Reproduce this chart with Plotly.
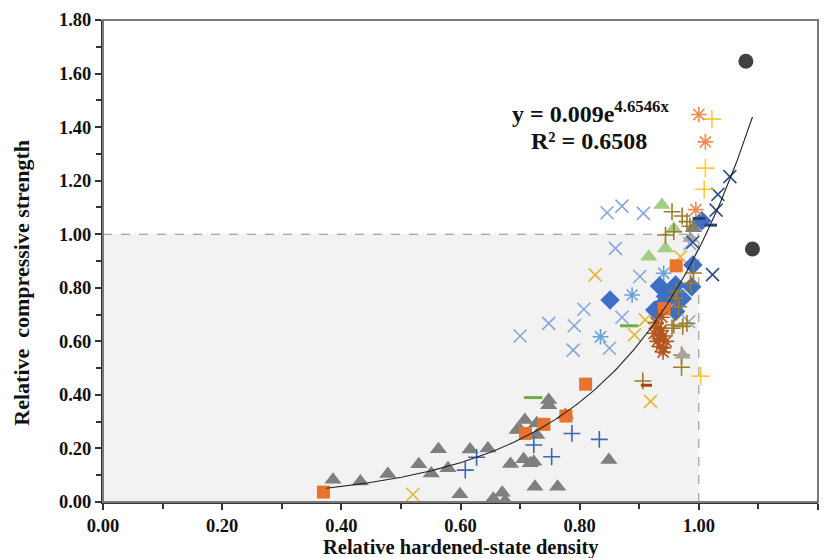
import numpy as np
import plotly.graph_objects as go

# ---------------- data ----------------
gray_tri_x = [0.386, 0.432, 0.478, 0.530, 0.551, 0.563, 0.579, 0.616, 0.646, 0.599, 0.655, 0.670, 0.675,
              0.684, 0.700, 0.708, 0.706, 0.717, 0.723, 0.728, 0.728, 0.695, 0.748, 0.748, 0.763, 0.725,
              0.776, 0.849, 0.991]
gray_tri_y = [0.083, 0.077, 0.105, 0.141, 0.106, 0.197, 0.126, 0.196, 0.200, 0.029, 0.012, 0.035, 0.004,
              0.142, 0.270, 0.306, 0.160, 0.145, 0.150, 0.294, 0.250, 0.269, 0.381, 0.361, 0.057, 0.057,
              0.325, 0.157, 1.022]

lgray_tri_x = [0.973, 0.986]
lgray_tri_y = [0.549, 0.985]

green_tri_x = [0.938, 0.944, 0.916, 0.958]
green_tri_y = [1.109, 0.947, 0.916, 1.020]

orange_sq_x = [0.370, 0.709, 0.740, 0.777, 0.810, 0.942, 0.962]
orange_sq_y = [0.037, 0.256, 0.290, 0.321, 0.440, 0.722, 0.882]

blue_dia_x = [0.851, 0.990, 0.988, 0.934, 0.926, 0.961, 0.966, 0.944, 0.961, 0.952, 0.972, 0.940, 1.005]
blue_dia_y = [0.754, 0.885, 0.804, 0.807, 0.717, 0.711, 0.754, 0.767, 0.810, 0.780, 0.760, 0.740, 1.050]

lblue_x_x = [0.700, 0.748, 0.791, 0.807, 0.789, 0.850, 0.860, 0.846, 0.871, 0.907, 0.901, 0.871, 0.983, 0.985]
lblue_x_y = [0.620, 0.667, 0.658, 0.720, 0.567, 0.574, 0.947, 1.080, 1.105, 1.078, 0.842, 0.690, 0.673, 0.965]

lblue_ast_x = [0.888, 0.835, 0.941]
lblue_ast_y = [0.773, 0.617, 0.854]

gold_x_x = [0.520, 0.826, 0.892, 0.910, 0.969, 0.919]
gold_x_y = [0.028, 0.848, 0.624, 0.680, 0.916, 0.376]

navy_x_x = [1.052, 1.032, 1.029, 1.023, 0.990]
navy_x_y = [1.215, 1.149, 1.090, 0.849, 0.970]

dblue_plus_x = [0.608, 0.627, 0.723, 0.753, 0.787, 0.833]
dblue_plus_y = [0.119, 0.167, 0.213, 0.169, 0.256, 0.234]

yellow_plus_x = [1.022, 1.011, 1.009, 1.003]
yellow_plus_y = [1.430, 1.247, 1.168, 0.470]

orange_ast_x = [1.000, 1.011, 0.995]
orange_ast_y = [1.447, 1.345, 1.092]

olive_plus_x = [0.955, 0.972, 0.980, 0.944, 0.958, 0.985, 0.973, 0.955, 0.937, 0.971, 0.971, 0.906,
                0.963, 0.966, 0.958, 0.980, 0.986, 0.991, 0.960]
olive_plus_y = [1.084, 1.068, 1.047, 0.997, 1.009, 1.030, 0.656, 0.649, 0.649, 0.549, 0.503, 0.452,
                0.785, 0.729, 0.661, 0.667, 0.817, 0.855, 0.762]

brown_ast_x = [0.925, 0.930, 0.935, 0.940, 0.932, 0.940, 0.928, 0.945, 0.938, 0.934, 0.941, 0.936]
brown_ast_y = [0.630, 0.600, 0.580, 0.560, 0.650, 0.620, 0.670, 0.600, 0.690, 0.610, 0.575, 0.640]

green_dash_x = [0.722, 0.883]
green_dash_y = [0.390, 0.658]

brown_dash_x = [0.912]
brown_dash_y = [0.436]

navy_dash_x = [1.020, 1.000]
navy_dash_y = [1.034, 1.059]

dgray_circ_x = [1.079, 1.090]
dgray_circ_y = [1.646, 0.945]

# trendline y = a * exp(b x)
trend_a = 0.009
trend_b = 4.6546
trend_x_range = [0.375, 1.09]

x_ticks = [0.0, 0.2, 0.4, 0.6, 0.8, 1.0, 1.2]
y_ticks = [0.0, 0.2, 0.4, 0.6, 0.8, 1.0, 1.2, 1.4, 1.6, 1.8]

# ---------------- figure ----------------
SERIF = "Liberation Serif, Times New Roman, serif"
fig = go.Figure()


def add(xs, ys, symbol, color, size, lw=1.6, filled=False):
    if filled:
        marker = dict(symbol=symbol, color=color, size=size, line=dict(width=0))
    else:
        marker = dict(symbol=symbol, size=size, color=color, line=dict(color=color, width=lw))
    fig.add_trace(go.Scatter(x=xs, y=ys, mode="markers", marker=marker, showlegend=False,
                             hoverinfo="skip"))


add(gray_tri_x, gray_tri_y, "triangle-up", "#7f7f7f", 15, filled=True)
add(lblue_x_x, lblue_x_y, "x-thin-open", "#86a6de", 13)
add(lblue_ast_x, lblue_ast_y, "asterisk-open", "#6a9fdc", 13)
add(gold_x_x, gold_x_y, "x-thin-open", "#e6b834", 13)
add(dblue_plus_x, dblue_plus_y, "cross-thin-open", "#3d66b0", 12)
add(green_tri_x, green_tri_y, "triangle-up", "#a3cd86", 15, filled=True)
add(blue_dia_x, blue_dia_y, "diamond", "#3f6fc4", 15, filled=True)
add(orange_sq_x, orange_sq_y, "square", "#e8732c", 13, filled=True)
add(olive_plus_x, olive_plus_y, "cross-thin-open", "#9c7d2a", 12)
add(brown_ast_x, brown_ast_y, "asterisk-open", "#b5561e", 13)
add(lgray_tri_x, lgray_tri_y, "triangle-up", "#a5a5a5", 14, filled=True)
add(navy_x_x, navy_x_y, "x-thin-open", "#2f4f86", 13)
add(yellow_plus_x, yellow_plus_y, "cross-thin-open", "#ffc83a", 13)
add(orange_ast_x, orange_ast_y, "asterisk-open", "#f08a55", 13)
add(green_dash_x, green_dash_y, "line-ew-open", "#70ad47", 13, lw=3)
add(brown_dash_x, brown_dash_y, "line-ew-open", "#9e480e", 8, lw=3)
add(navy_dash_x, navy_dash_y, "line-ew-open", "#264478", 9, lw=3)
add(dgray_circ_x, dgray_circ_y, "circle", "#404040", 15, filled=True)

tx = np.linspace(trend_x_range[0], trend_x_range[1], 200)
fig.add_trace(go.Scatter(x=tx, y=trend_a * np.exp(trend_b * tx), mode="lines",
                         line=dict(color="#222222", width=1.1), showlegend=False, hoverinfo="skip"))

# shaded region and dashed reference lines
fig.add_shape(type="rect", x0=0, x1=1, y0=0, y1=1, xref="x", yref="y",
              fillcolor="#f2f2f2", line=dict(width=0), layer="below")
fig.add_shape(type="line", x0=0, x1=1, y0=1, y1=1, xref="x", yref="y",
              line=dict(color="#8c8c8c", width=1, dash="dash"), layer="below")
fig.add_shape(type="line", x0=1, x1=1, y0=0, y1=1, xref="x", yref="y",
              line=dict(color="#8c8c8c", width=1, dash="dash"), layer="below")
# frame
fig.add_shape(type="rect", x0=0, x1=1, y0=0, y1=1, xref="paper", yref="paper",
              line=dict(color="#7a7a7a", width=2), fillcolor="rgba(0,0,0,0)", layer="above")

fig.add_annotation(x=0.818, y=1.455, xref="x", yref="y", showarrow=False,
                   text="<b>y = 0.009e<sup>4.6546x</sup></b>",
                   font=dict(family=SERIF, size=24, color="#111111"))
fig.add_annotation(x=0.815, y=1.35, xref="x", yref="y", showarrow=False,
                   text="<b>R² = 0.6508</b>",
                   font=dict(family=SERIF, size=24, color="#111111"))

# axis titles
fig.add_annotation(x=0.5, y=-0.0935, xref="paper", yref="paper", showarrow=False,
                   xanchor="center", yanchor="middle",
                   text="<b>Relative hardened-state density</b>",
                   font=dict(family=SERIF, size=20.5, color="#111111"))
fig.add_annotation(x=-0.114, y=0.456, xref="paper", yref="paper", showarrow=False,
                   xanchor="center", yanchor="middle", textangle=-90,
                   text="<b>Relative  compressive strength</b>",
                   font=dict(family=SERIF, size=22, color="#111111"))

axis_common = dict(
    showgrid=False, zeroline=False, showline=True, linecolor="#333333", linewidth=2,
    ticks="outside", ticklen=6, tickwidth=1.5, tickcolor="#333333",
    tickfont=dict(family=SERIF, size=18.5, color="#111111", weight="bold"),
    tickformat=".2f", automargin=False,
    minor=dict(dtick=0.1, ticks="outside", ticklen=5, tickwidth=1.5, tickcolor="#333333"),
)

fig.update_xaxes(range=[0, 1.2], tickvals=x_ticks, **axis_common)
fig.update_yaxes(range=[0, 1.8], tickvals=y_ticks, **axis_common)

# the page body adds an 8px margin, so the figure is drawn 8px smaller and offset
fig.update_layout(width=823, height=550, margin=dict(l=95, r=13, t=12, b=56),
                  plot_bgcolor="white", paper_bgcolor="white")

fig.write_html("out.html")
